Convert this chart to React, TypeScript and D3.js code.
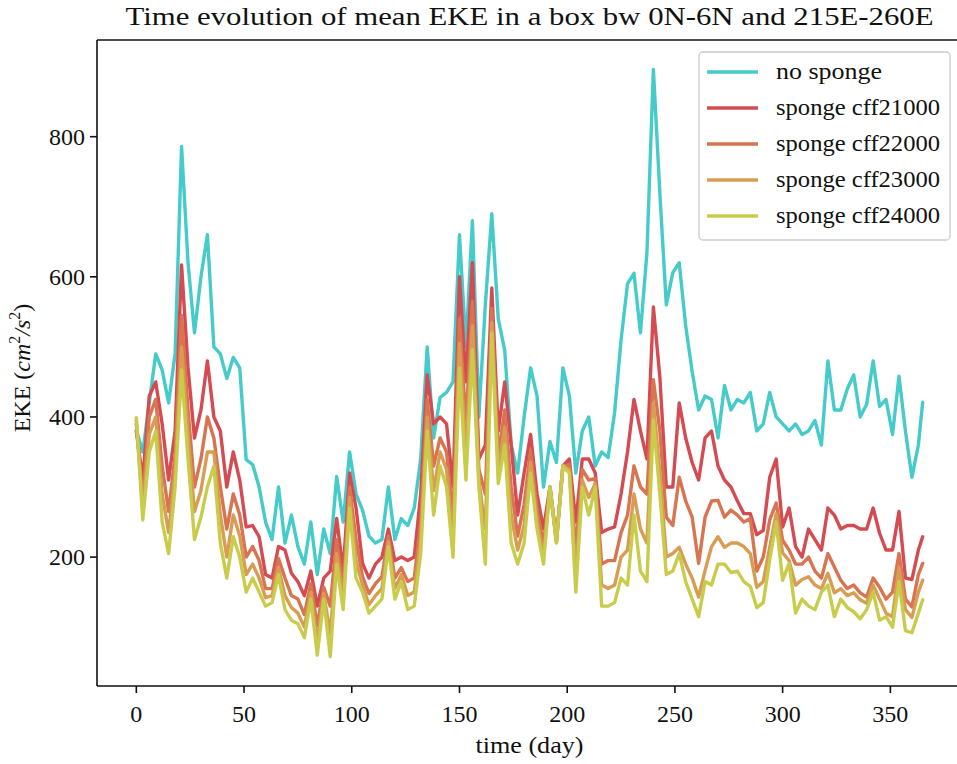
import React from 'react';
import * as d3 from 'd3';

// sample days (every 3 days, plus the last day)
const days = [...d3.range(0, 364, 3), 365];

const noSponge = [
  381, 350, 420, 490, 467, 420, 490, 786, 620, 520,
  600, 660, 500, 490, 455, 485, 470, 339, 332, 300,
  250, 225, 300, 220, 260, 215, 190, 250, 175, 240,
  205, 315, 250, 350, 290, 267, 230, 220, 225, 300,
  225, 255, 245, 270, 340, 500, 370, 428, 435, 450,
  660, 500, 680, 400, 560, 690, 540, 495, 360, 320,
  400, 470, 430, 300, 365, 335, 470, 430, 320, 380,
  400, 330, 350, 342, 406, 510, 590, 605, 520, 634,
  896, 720, 560, 606, 620, 530, 465, 410, 430, 425,
  370, 445, 410, 425, 420, 435, 380, 390, 435, 400,
  390, 380, 390, 375, 380, 395, 360, 480, 410, 410,
  440, 460, 400, 418, 480, 415, 425, 375, 458, 380,
  314, 360, 421,
];

const cff21000 = [
  380, 310, 430, 450, 390, 310, 380, 617, 470, 370,
  410, 480, 400, 380, 300, 350, 310, 243, 245, 229,
  175, 170, 215, 210, 177, 165, 145, 180, 130, 170,
  180, 255, 180, 320, 270, 191, 170, 190, 200, 240,
  195, 200, 195, 200, 290, 460, 390, 400, 390, 300,
  600, 450, 620, 340, 360, 584, 380, 450, 360, 260,
  320, 375, 290, 240, 300, 225, 330, 340, 250, 340,
  340, 320, 235, 240, 243, 290, 350, 425, 380, 340,
  557, 457, 300, 300, 420, 370, 335, 310, 370, 380,
  330, 310, 300, 280, 262, 262, 232, 238, 314, 340,
  243, 270, 215, 200, 240, 225, 210, 270, 260, 240,
  245, 245, 240, 240, 270, 234, 210, 210, 265, 170,
  168, 210, 229,
];

const cff22000 = [
  390, 285, 400, 425, 330, 265, 345, 545, 410, 300,
  340, 400, 370, 300, 240, 290, 260, 200, 215, 195,
  155, 155, 198, 170, 145, 140, 118, 162, 102, 157,
  130, 225, 155, 300, 225, 172, 148, 162, 172, 230,
  170, 185, 165, 170, 250, 425, 330, 370, 350, 255,
  540, 390, 565, 325, 290, 555, 345, 410, 300, 230,
  275, 352, 268, 218, 300, 222, 330, 332, 210, 325,
  310, 312, 190, 195, 195, 235, 260, 330, 300, 290,
  453, 380, 257, 245, 314, 280, 257, 191, 257, 280,
  281, 257, 267, 260, 250, 255, 180, 200, 253, 277,
  224, 210, 190, 190, 200, 180, 170, 205, 186, 167,
  155, 160, 149, 143, 170, 157, 140, 150, 205, 140,
  129, 175, 191,
];

const cff23000 = [
  395, 268, 375, 400, 290, 235, 320, 500, 375, 265,
  295, 350, 350, 260, 200, 260, 230, 175, 190, 170,
  142, 145, 185, 145, 128, 120, 100, 150, 78, 148,
  90, 205, 140, 285, 195, 160, 132, 145, 155, 222,
  155, 175, 145, 150, 225, 400, 295, 350, 325, 225,
  505, 350, 530, 310, 240, 535, 325, 385, 260, 210,
  245, 335, 252, 202, 300, 221, 330, 325, 180, 310,
  285, 305, 160, 155, 160, 200, 210, 290, 240, 220,
  420, 320, 200, 205, 214, 190, 170, 143, 181, 215,
  229, 214, 220, 220, 215, 205, 157, 165, 214, 262,
  206, 195, 160, 168, 172, 160, 155, 177, 149, 155,
  145, 149, 139, 134, 160, 140, 120, 115, 185, 125,
  114, 150, 167,
];

const cff24000 = [
  399, 253, 350, 380, 250, 205, 300, 467, 340, 225,
  257, 300, 330, 220, 170, 229, 200, 150, 170, 150,
  130, 135, 175, 125, 110, 105, 85, 140, 60, 140,
  58, 190, 125, 270, 170, 150, 120, 130, 140, 215,
  140, 165, 125, 130, 205, 380, 260, 330, 300, 200,
  470, 310, 496, 300, 190, 520, 305, 360, 220, 190,
  220, 320, 240, 190, 300, 220, 330, 320, 150, 300,
  260, 300, 130, 130, 135, 170, 160, 260, 180, 165,
  396, 290, 175, 180, 205, 165, 140, 115, 165, 160,
  190, 190, 178, 180, 165, 158, 128, 135, 196, 250,
  167, 191, 120, 140, 130, 125, 150, 160, 115, 140,
  128, 122, 112, 125, 150, 110, 115, 100, 165, 95,
  92, 120, 139,
];

const seriesNames = ['no sponge', 'sponge cff21000', 'sponge cff22000', 'sponge cff23000', 'sponge cff24000'];
const seriesValues = [noSponge, cff21000, cff22000, cff23000, cff24000];
const seriesColors = ['#45cbc9', '#d54b52', '#d8744f', '#d89c52', '#c9cc4b'];

const FONT = "'Liberation Serif', 'Times New Roman', Times, serif";

export default function App() {
  const width = 957;
  const height = 764;
  const plot = { left: 97, right: 962, top: 40, bottom: 686 };

  const x = d3.scaleLinear().domain([-18.25, 383.25]).range([plot.left, plot.right]);
  const y = d3.scaleLinear().domain([16, 938]).range([plot.bottom, plot.top]);

  const line = d3
    .line<number>()
    .x((_, i) => x(days[i]))
    .y((d) => y(d));

  const xTicks = x.ticks(8).filter((t) => t >= 0);
  const yTicks = y.ticks(5);

  const legendX = 699;
  const legendY = 52;

  return (
    <svg
      width={width}
      height={height}
      style={{ position: 'absolute', left: 0, top: 0, background: '#fff', fontFamily: FONT }}
    >
      <defs>
        <clipPath id="plotClip">
          <rect x={plot.left} y={plot.top} width={plot.right - plot.left} height={plot.bottom - plot.top} />
        </clipPath>
      </defs>

      {/* title */}
      <text x={529.5} y={25} textAnchor="middle" fontSize={25} textLength={808} lengthAdjust="spacingAndGlyphs" fill="#111">
        Time evolution of mean EKE in a box bw 0N-6N and 215E-260E
      </text>

      {/* lines */}
      <g clipPath="url(#plotClip)">
        {seriesValues.map((vals, i) => (
          <path
            key={seriesNames[i]}
            d={line(vals) || ''}
            fill="none"
            stroke={seriesColors[i]}
            strokeWidth={3.4}
            strokeLinejoin="round"
            strokeLinecap="round"
          />
        ))}
      </g>

      {/* spines */}
      <g stroke="#111" strokeWidth={1.6} fill="none">
        <line x1={plot.left} x2={plot.left} y1={plot.top} y2={plot.bottom} />
        <line x1={plot.left} x2={plot.right} y1={plot.bottom} y2={plot.bottom} />
        <line x1={plot.left} x2={plot.right} y1={plot.top} y2={plot.top} />
      </g>

      {/* x axis */}
      {xTicks.map((t) => (
        <g key={'x' + t}>
          <line x1={x(t)} x2={x(t)} y1={plot.bottom} y2={plot.bottom + 7} stroke="#111" strokeWidth={1.6} />
          <text x={x(t)} y={722} textAnchor="middle" fontSize={24} fill="#111">
            {t}
          </text>
        </g>
      ))}
      <text x={529.5} y={753} textAnchor="middle" fontSize={24} textLength={108} lengthAdjust="spacingAndGlyphs" fill="#111">
        time (day)
      </text>

      {/* y axis */}
      {yTicks.map((t) => (
        <g key={'y' + t}>
          <line x1={plot.left - 7} x2={plot.left} y1={y(t)} y2={y(t)} stroke="#111" strokeWidth={1.6} />
          <text x={85} y={y(t) + 8} textAnchor="end" fontSize={24} fill="#111">
            {t}
          </text>
        </g>
      ))}
      <text transform="translate(30,368) rotate(-90)" textAnchor="middle" fontSize={24} fill="#111">
        EKE (<tspan fontStyle="italic">cm</tspan>
        <tspan fontSize={16} dy={-10}>2</tspan>
        <tspan dy={10} fontStyle="italic">/s</tspan>
        <tspan fontSize={16} dy={-10}>2</tspan>
        <tspan dy={10}>)</tspan>
      </text>

      {/* legend */}
      <rect
        x={legendX}
        y={legendY}
        width={251}
        height={188}
        rx={4}
        fill="#fff"
        fillOpacity={0.8}
        stroke="#cccccc"
        strokeWidth={1.3}
      />
      {seriesNames.map((name, i) => {
        const ly = legendY + 20 + i * 36;
        return (
          <g key={'lg' + name}>
            <line x1={legendX + 8} x2={legendX + 59} y1={ly} y2={ly} stroke={seriesColors[i]} strokeWidth={3.4} />
            <text
              x={legendX + 77}
              y={ly + 7}
              fontSize={24}
              fill="#111"
              textLength={i === 0 ? 106 : 164}
              lengthAdjust="spacingAndGlyphs"
            >
              {name}
            </text>
          </g>
        );
      })}
    </svg>
  );
}
